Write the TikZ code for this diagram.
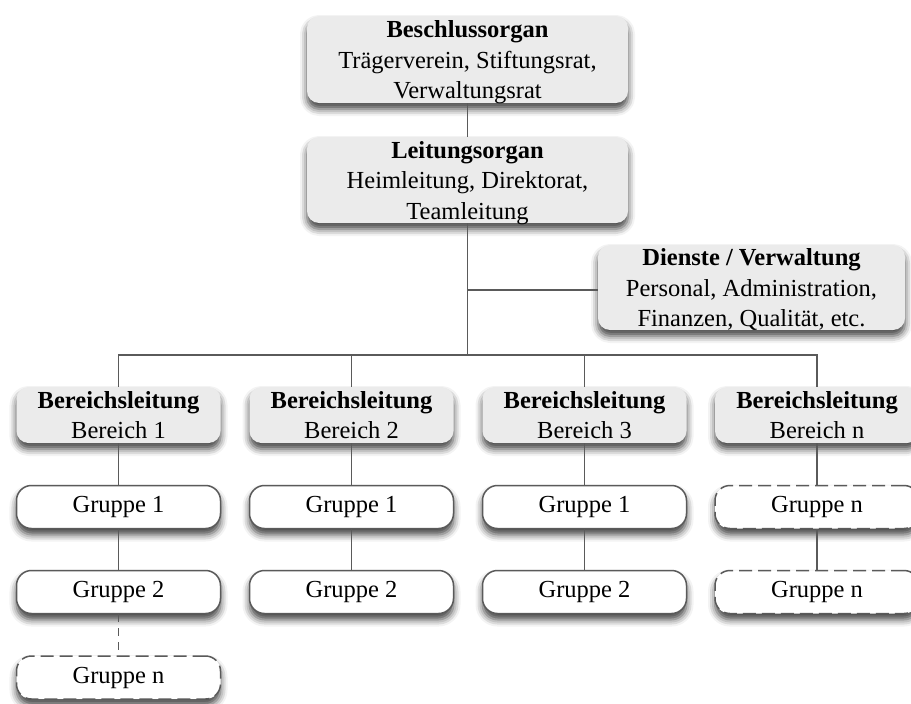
\documentclass[tikz,border=0pt]{standalone}
\usepackage{fontspec}
\setmainfont{Liberation Serif}
\usetikzlibrary{shadows.blur}

\definecolor{boxgray}{HTML}{EBEBEB}
\definecolor{linegray}{HTML}{5A5A5A}

\tikzset{
  orgshadow/.style={blur shadow={shadow xshift=0pt, shadow yshift=-6pt,
      shadow blur radius=7pt, shadow opacity=75}},
  head/.style={orgshadow, fill=boxgray, draw=none, rounded corners=12pt,
      align=center, inner sep=0pt, font=\fontsize{24.5}{30.5}\selectfont},
  threeline/.style={text depth=-1pt},
  group/.style={orgshadow, fill=white, draw=linegray, line width=1.5pt,
      rounded corners=15pt, minimum width=204pt, minimum height=43pt,
      inner sep=0pt, font=\fontsize{24.5}{30}\selectfont},
  groupopen/.style={group, dash pattern=on 13pt off 6pt},
  link/.style={draw=linegray, line width=1.6pt},
  linkopen/.style={link, dash pattern=on 8pt off 6pt},
}

\begin{document}
\begin{tikzpicture}[x=1pt, y=-1pt]
\useasboundingbox (0,0) rectangle (911,704);
\clip (0,0) rectangle (911,704);

% upper levels
\node[head, threeline, minimum width=321pt, minimum height=87pt] (besch) at (467.5,59.5)
  {\textbf{Beschlussorgan}\\Trägerverein, Stiftungsrat,\\Verwaltungsrat};
\node[head, threeline, minimum width=321pt, minimum height=86pt] (leit) at (467.5,180)
  {\textbf{Leitungsorgan}\\Heimleitung, Direktorat,\\Teamleitung};
\node[head, threeline, minimum width=307pt, minimum height=85pt] (dienst) at (751.5,287.5)
  {\textbf{Dienste / Verwaltung}\\Personal, Administration,\\Finanzen, Qualität, etc.};

% division heads
\foreach \i/\x/\t in {1/118.5/1, 2/351.5/2, 3/584.5/3, 4/817/n}
  \node[head, minimum width=204pt, minimum height=56pt] (ber\i) at (\x,415)
    {\textbf{Bereichsleitung}\\Bereich \t};

% groups
\node[group] (g11) at (ber1 |- 0,507) {Gruppe 1};
\node[group] (g12) at (ber1 |- 0,592) {Gruppe 2};
\node[groupopen] (g13) at (ber1 |- 0,677.5) {Gruppe n};
\node[group] (g21) at (ber2 |- 0,507) {Gruppe 1};
\node[group] (g22) at (ber2 |- 0,592) {Gruppe 2};
\node[group] (g31) at (ber3 |- 0,507) {Gruppe 1};
\node[group] (g32) at (ber3 |- 0,592) {Gruppe 2};
\node[groupopen] (g41) at (ber4 |- 0,507) {Gruppe n};
\node[groupopen] (g42) at (ber4 |- 0,592) {Gruppe n};

% connectors
\coordinate (bus) at (467.5,355);
\coordinate (tap) at (467.5,290);
\draw[link] (besch.south) -- (leit.north);
\draw[link] (leit.south) -- (bus);
\draw[link] (tap) -- (tap -| dienst.west);
\draw[link] (ber1.north) |- (bus) -| (ber4.north);
\draw[link] (ber2.north) -- (ber2.north |- bus);
\draw[link] (ber3.north) -- (ber3.north |- bus);

\foreach \c in {1,2,3,4} \draw[link] (ber\c.south) -- (g\c1.north);
\draw[link] (g11.south) -- (g12.north);
\draw[link] (g21.south) -- (g22.north);
\draw[link] (g31.south) -- (g32.north);
\draw[link] (g41.south) -- (g42.north);
\draw[linkopen] (g12.south) -- (g13.north);
\end{tikzpicture}
\end{document}
